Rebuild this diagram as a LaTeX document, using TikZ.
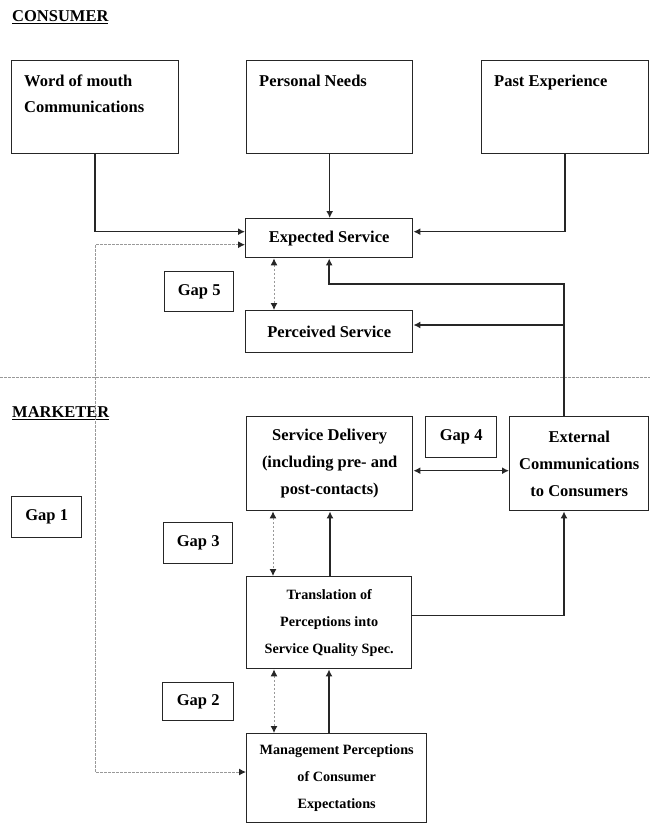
\documentclass[tikz,border=0pt]{standalone}
\usepackage{fontspec}
\setmainfont{Liberation Serif}
\usetikzlibrary{arrows.meta,calc}

\tikzstyle{box} = [draw=black!85, line width=1.4pt, anchor=north west, inner sep=0pt, align=center, font=\fontsize{16.5}{27}\selectfont\bfseries]
\tikzstyle{toptext} = [anchor=north west, align=left, inner xsep=13pt, inner ysep=15pt, font=\fontsize{16.5}{26}\selectfont\bfseries]
\tikzstyle{smallbox} = [box, font=\fontsize{14.2}{27}\selectfont\bfseries]
\tikzstyle{heading} = [anchor=west, inner sep=0pt, font=\fontsize{16.5}{20}\selectfont\bfseries]
\tikzstyle{flow} = [draw=black!85, line width=1.5pt, -{Latex[length=7pt,width=7pt]}]
\tikzstyle{both} = [flow, {Latex[length=7pt,width=7pt]}-{Latex[length=7pt,width=7pt]}]
\tikzstyle{gapline} = [draw=black!40, line width=1pt, dash pattern=on 2.5pt off 1.5pt, {Latex[length=7pt,width=7pt,color=black!85]}-{Latex[length=7pt,width=7pt,color=black!85]}]

\begin{document}
\begin{tikzpicture}[x=1pt, y=-1pt]
	\useasboundingbox (0,0) rectangle (650,825);
	\node[heading] (consumer) at (12,17) {\underline{CONSUMER}};
	\node[heading] (marketer) at (12,413) {\underline{MARKETER}};
	\draw[gapline, -] (0,377) -- (650,377);

	\node[box, minimum width=167pt, minimum height=93pt,
		label={[toptext]north west:{Word of mouth\\Communications}}] (wom) at (11,60) {};
	\node[box, minimum width=166pt, minimum height=93pt,
		label={[toptext]north west:{Personal Needs}}] (needs) at (246,60) {};
	\node[box, minimum width=167pt, minimum height=93pt,
		label={[toptext]north west:{Past Experience}}] (past) at (481,60) {};

	\node[box, minimum width=167pt, minimum height=39pt] (expected) at (245,218) {Expected Service};
	\node[box, minimum width=167pt, minimum height=42pt] (perceived) at (245,310) {Perceived Service};
	\node[box, minimum width=69pt, minimum height=40pt] (gap5) at (164,271) {Gap 5};

	\node[box, minimum width=166pt, minimum height=94pt] (delivery) at (246,416) {Service Delivery\\(including pre- and\\post-contacts)};
	\node[box, minimum width=71pt, minimum height=41pt] (gap4) at (425,416) {Gap 4};
	\node[box, minimum width=139pt, minimum height=94pt] (external) at (509,416) {External\\Communications\\to Consumers};
	\node[box, minimum width=70pt, minimum height=41pt] (gap1) at (11,496) {Gap 1};
	\node[box, minimum width=69pt, minimum height=41pt] (gap3) at (163,522) {Gap 3};
	\node[smallbox, minimum width=165pt, minimum height=92pt] (transl) at (246,576) {Translation of\\Perceptions into\\Service Quality Spec.};
	\node[box, minimum width=71pt, minimum height=38pt] (gap2) at (162,682) {Gap 2};
	\node[smallbox, minimum width=180pt, minimum height=89pt] (mgmt) at (246,733) {Management Perceptions\\of Consumer\\Expectations};

	\coordinate (bend) at (564,284);
	\coordinate (split) at (564,325);
	\coordinate (turn) at (95,772);

	\draw[flow] (wom.south) |- ($(expected.west)+(0,-6.5)$);
	\draw[flow] (needs.south) -- (needs.south |- expected.north);
	\draw[flow] (past.south) |- ($(expected.east)+(0,-6.5)$);
	\draw[gapline] ($(expected.west)+(0,6.5)$) -| (turn) -- (turn -| mgmt.west);
	\draw[gapline] ($(expected.south west)+(29,0)$) -- ($(perceived.north west)+(29,0)$);
	\draw[flow] ($(external.north west)+(55,0)$) -- (bend) -| (expected.south);
	\draw[flow] (split) -- (split -| perceived.east);
	\draw[both] ($(delivery.east)+(0,7)$) -- ($(external.west)+(0,7)$);
	\draw[gapline] ($(delivery.south west)+(27,0)$) -- ($(transl.north west)+(27,0)$);
	\draw[flow] ($(transl.north west)+(84,0)$) -- ($(delivery.south west)+(84,0)$);
	\draw[flow] ($(transl.east)+(0,-7)$) -| ($(external.south west)+(55,0)$);
	\draw[gapline] ($(transl.south west)+(28,0)$) -- ($(mgmt.north west)+(28,0)$);
	\draw[flow] ($(mgmt.north west)+(83,0)$) -- ($(transl.south west)+(83,0)$);
\end{tikzpicture}
\end{document}
